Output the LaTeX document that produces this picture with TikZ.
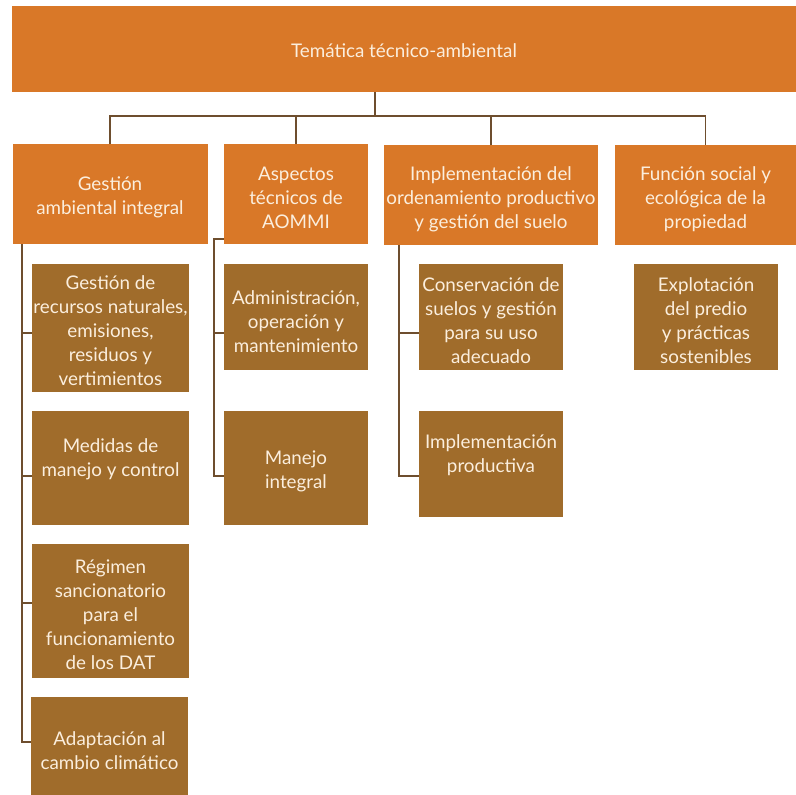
\documentclass[tikz,border=0pt]{standalone}
\usepackage{fontspec}
\setmainfont{Lato}
\definecolor{orng}{HTML}{D97828}
\definecolor{brwn}{HTML}{A06C2B}
\definecolor{txtc}{HTML}{FBEEDD}
\definecolor{lnc}{HTML}{6E4E2E}
\begin{document}
\begin{tikzpicture}[x=1pt,y=-1pt,
  obox/.style={fill=orng,draw=none,inner sep=0pt},
  bbox/.style={fill=brwn,draw=none,inner sep=0pt},
  txt/.style={text=txtc,align=center,font=\fontsize{18.8}{24}\selectfont,inner sep=0pt,yshift=-2pt},
  conn/.style={draw=lnc,line width=1.3pt}]
\useasboundingbox (0,0) rectangle (796,795);
% top
\node[obox,minimum width=784pt,minimum height=86pt] (top) at (404,49) {};
\node[txt] (ttop) at (404,49) {Temática técnico-ambiental};
% level 2
\node[obox,minimum width=195pt,minimum height=100pt] (b1) at (110,194) {};
\node[txt] (tb1) at (110,195) {Gestión\\ambiental integral};
\node[obox,minimum width=144pt,minimum height=100pt] (b2) at (296,194) {};
\node[txt] (tb2) at (296,196) {Aspectos\\técnicos de\\AOMMI};
\node[obox,minimum width=214pt,minimum height=100pt] (b3) at (491,195) {};
\node[txt] (tb3) at (491,197) {Implementación del\\ordenamiento productivo\\y gestión del suelo};
\node[obox,minimum width=181pt,minimum height=100pt] (b4) at (705.5,195) {};
\node[txt] (tb4) at (705.5,197) {Función social y\\ecológica de la\\propiedad};
% column 1
\node[bbox,minimum width=157pt,minimum height=128pt] (c1a) at (110.5,328) {};
\node[txt] (tc1a) at (110.5,329) {Gestión de\\recursos naturales,\\emisiones,\\residuos y\\vertimientos};
\node[bbox,minimum width=157pt,minimum height=114pt] (c1b) at (110.5,468) {};
\node[txt] (tc1b) at (110.5,457) {Medidas de\\manejo y control};
\node[bbox,minimum width=157pt,minimum height=134pt] (c1c) at (110.5,611) {};
\node[txt] (tc1c) at (110.5,613) {Régimen\\sancionatorio\\para el\\funcionamiento\\de los DAT};
\node[bbox,minimum width=157pt,minimum height=98pt] (c1d) at (109.5,746) {};
\node[txt] (tc1d) at (109.5,749) {Adaptación al\\cambio climático};
% column 2
\node[bbox,minimum width=144pt,minimum height=106pt] (c2a) at (296,317) {};
\node[txt] (tc2a) at (296,320) {Administración,\\operación y\\mantenimiento};
\node[bbox,minimum width=144pt,minimum height=114pt] (c2b) at (296,468) {};
\node[txt] (tc2b) at (296,469) {Manejo\\integral};
% column 3
\node[bbox,minimum width=144pt,minimum height=106pt] (c3a) at (491,317) {};
\node[txt] (tc3a) at (491,319) {Conservación de\\suelos y gestión\\para su uso\\adecuado};
\node[bbox,minimum width=144pt,minimum height=106pt] (c3b) at (491,464) {};
\node[txt] (tc3b) at (491,453) {Implementación\\productiva};
% column 4
\node[bbox,minimum width=144pt,minimum height=106pt] (c4a) at (706,317) {};
\node[txt] (tc4a) at (706,319) {Explotación\\del predio\\y prácticas\\sostenibles};
% connectors top
\coordinate (hub) at (375,116);
\draw[conn] (top.south -| hub) -- (hub);
\draw[conn] (b1.north) -- (b1.north |- hub) -- (b4.north |- hub) -- (b4.north);
\draw[conn] (b2.north |- hub) -- (b2.north);
\draw[conn] (b3.north |- hub) -- (b3.north);
% column 1 connectors
\coordinate (s1a) at (22,333);
\coordinate (s1b) at (22,476);
\coordinate (s1c) at (22,603);
\coordinate (s1d) at (22,742);
\draw[conn] (b1.south -| s1a) -- (s1d) -- (s1d -| c1d.west);
\draw[conn] (s1a) -- (s1a -| c1a.west);
\draw[conn] (s1b) -- (s1b -| c1b.west);
\draw[conn] (s1c) -- (s1c -| c1c.west);
% column 2 connectors
\coordinate (s2top) at (214,239);
\coordinate (s2a) at (214,333);
\coordinate (s2b) at (214,476);
\draw[conn] (s2top -| b2.west) -- (s2top) -- (s2b) -- (s2b -| c2b.west);
\draw[conn] (s2a) -- (s2a -| c2a.west);
% column 3 connectors
\coordinate (s3a) at (399,333);
\coordinate (s3b) at (399,476);
\draw[conn] (b3.south -| s3a) -- (s3b) -- (s3b -| c3b.west);
\draw[conn] (s3a) -- (s3a -| c3a.west);
\end{tikzpicture}
\end{document}
